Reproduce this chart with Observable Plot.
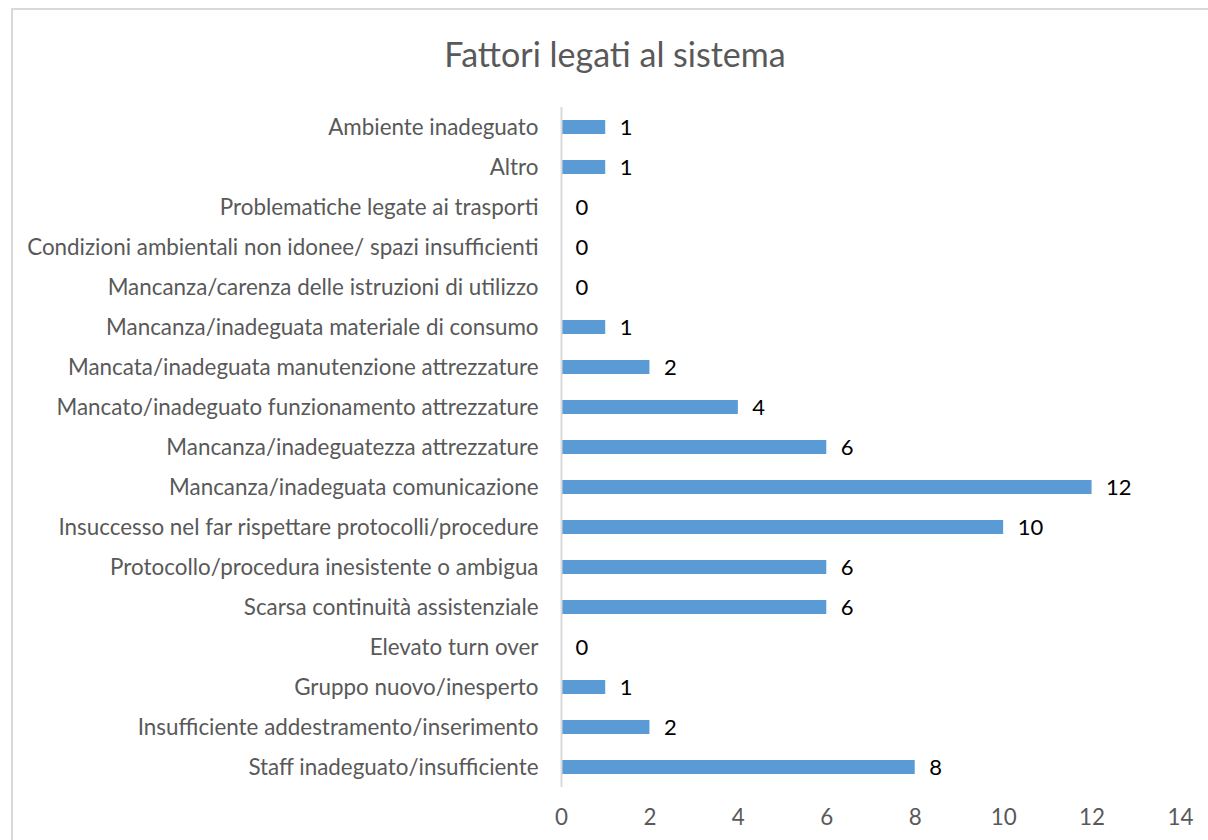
<!DOCTYPE html>
<html>
<head>
<meta charset="utf-8">
<script src="https://cdn.jsdelivr.net/npm/d3@7"></script>
<script src="https://cdn.jsdelivr.net/npm/@observablehq/plot@0.6"></script>
<style>
  html, body { margin: 0; padding: 0; background: #fff; overflow: hidden; width: 1208px; height: 840px; }
  #border { position: absolute; left: 11px; top: 8px; width: 1300px; height: 1000px; border-left: 2px solid #d9d9d9; border-top: 2px solid #d9d9d9; box-sizing: border-box; }
  #title { position: absolute; left: 0; width: 1230px; top: 34px; height: 40px; line-height: 40px; text-align: center; font-family: Lato, sans-serif; font-size: 34px; color: #595959; }
  #chart { position: absolute; left: 0; top: 80px; }
</style>
</head>
<body>
<div id="border"></div>
<div id="title">Fattori legati al sistema</div>
<div id="chart"></div>
<script>
const categories = [
  "Ambiente inadeguato",
  "Altro",
  "Problematiche legate ai trasporti",
  "Condizioni ambientali non idonee/ spazi insufficienti",
  "Mancanza/carenza delle istruzioni di utilizzo",
  "Mancanza/inadeguata materiale di consumo",
  "Mancata/inadeguata manutenzione attrezzature",
  "Mancato/inadeguato funzionamento attrezzature",
  "Mancanza/inadeguatezza attrezzature",
  "Mancanza/inadeguata comunicazione",
  "Insuccesso nel far rispettare protocolli/procedure",
  "Protocollo/procedura inesistente o ambigua",
  "Scarsa continuità assistenziale",
  "Elevato turn over",
  "Gruppo nuovo/inesperto",
  "Insufficiente addestramento/inserimento",
  "Staff inadeguato/insufficiente"
];
const values = [1, 1, 0, 0, 0, 1, 2, 4, 6, 12, 10, 6, 6, 0, 1, 2, 8];
const xTicks = [0, 2, 4, 6, 8, 10, 12, 14];

const data = categories.map((c, i) => ({category: c, value: values[i]}));

const chart = Plot.plot({
  width: 1208,
  height: 760,
  marginTop: 27,
  marginBottom: 53,
  marginLeft: 561,
  marginRight: 28,
  style: {fontFamily: "Lato, sans-serif", fontSize: "22.4px", color: "#595959", background: "transparent"},
  x: {domain: [0, 14], ticks: xTicks, tickSize: 0, tickPadding: 22, label: null},
  y: {domain: categories, padding: 0, tickSize: 0, tickPadding: 23, label: null},
  marks: [
    Plot.barX(data, {x: "value", y: "category", fill: "#5b9bd5", insetTop: 13, insetBottom: 13}),
    Plot.ruleX([0], {stroke: "#d9d9d9", strokeWidth: 2}),
    Plot.text(data, {x: "value", y: "category", text: d => String(d.value), textAnchor: "start", dx: 14, fill: "#000", fontSize: 22})
  ]
});
document.getElementById("chart").appendChild(chart);
</script>
</body>
</html>
